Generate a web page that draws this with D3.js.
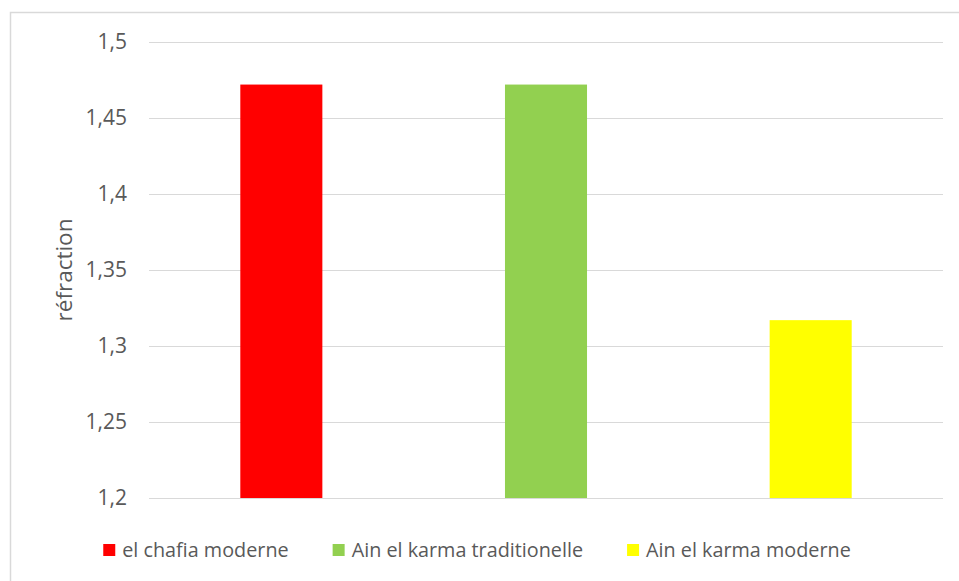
<!DOCTYPE html>
<html>
<head>
<meta charset="utf-8">
<script src="https://cdn.jsdelivr.net/npm/d3@7"></script>
<style>
  html, body { margin: 0; padding: 0; background: #fff; }
  svg { display: block; }
  text { font-family: "Open Sans", "Noto Sans", sans-serif; fill: #595959; }
</style>
</head>
<body>
<svg id="chart" width="959" height="581"></svg>
<script>
// Refractive index per water sample
const categories = ["el chafia moderne", "Ain el karma traditionelle", "Ain el karma moderne"];
const values = [1.472, 1.472, 1.317];
const colors = ["#FF0000", "#92D050", "#FFFF00"];
const yTicks = [1.2, 1.25, 1.3, 1.35, 1.4, 1.45, 1.5];
const yTitle = "réfraction";

const svg = d3.select("#chart");
const W = 959, H = 581;
const plot = { left: 149, right: 943, top: 42, bottom: 498 };

// chart frame
svg.append("rect")
  .attr("x", 10.5).attr("y", 12.5)
  .attr("width", W + 10).attr("height", H + 10)
  .attr("fill", "#fff").attr("stroke", "#D9D9D9").attr("stroke-width", 1.5);

const x = d3.scaleBand()
  .domain(categories)
  .range([plot.left, plot.right])
  .paddingInner(0.69)
  .paddingOuter(0.345);

const y = d3.scaleLinear()
  .domain([1.2, 1.5])
  .range([plot.bottom, plot.top]);

const fmt = v => d3.format(".2~f")(v).replace(".", ",");

// gridlines and tick labels
const yAxis = d3.axisLeft(y)
  .tickValues(yTicks)
  .tickFormat(fmt)
  .tickSize(-(plot.right - plot.left))
  .tickPadding(22);

const gy = svg.append("g")
  .attr("transform", `translate(${plot.left},0)`)
  .call(yAxis);
gy.select(".domain").remove();
gy.selectAll(".tick line").attr("stroke", "#D9D9D9").attr("stroke-width", 1.2);
gy.selectAll(".tick text")
  .attr("font-size", 21)
  .attr("fill", "#595959")
  .style("font-family", "'Open Sans', sans-serif");

// bars
svg.append("g").selectAll("rect")
  .data(categories)
  .join("rect")
  .attr("x", d => x(d))
  .attr("width", x.bandwidth())
  .attr("y", (d, i) => y(values[i]))
  .attr("height", (d, i) => y(1.2) - y(values[i]))
  .attr("fill", (d, i) => colors[i]);

// y-axis title
svg.append("text")
  .attr("transform", `translate(72,${(plot.top + plot.bottom) / 2}) rotate(-90)`)
  .attr("text-anchor", "middle")
  .attr("font-size", 22.5)
  .text(yTitle);

// legend
const legend = svg.append("g");
const items = legend.selectAll("g")
  .data(categories)
  .join("g");
items.append("rect")
  .attr("width", 12).attr("height", 12)
  .attr("y", -13)
  .attr("fill", (d, i) => colors[i]);
items.append("text")
  .attr("x", 19)
  .attr("y", 0)
  .attr("font-size", 19.8)
  .text(d => d);

let cx = 0;
items.each(function () {
  const g = d3.select(this);
  g.attr("transform", `translate(${cx},0)`);
  const w = 19 + g.select("text").node().getComputedTextLength();
  cx += w + 44;
});
const total = cx - 44;
legend.attr("transform", `translate(${477 - total / 2},557)`);
</script>
</body>
</html>
